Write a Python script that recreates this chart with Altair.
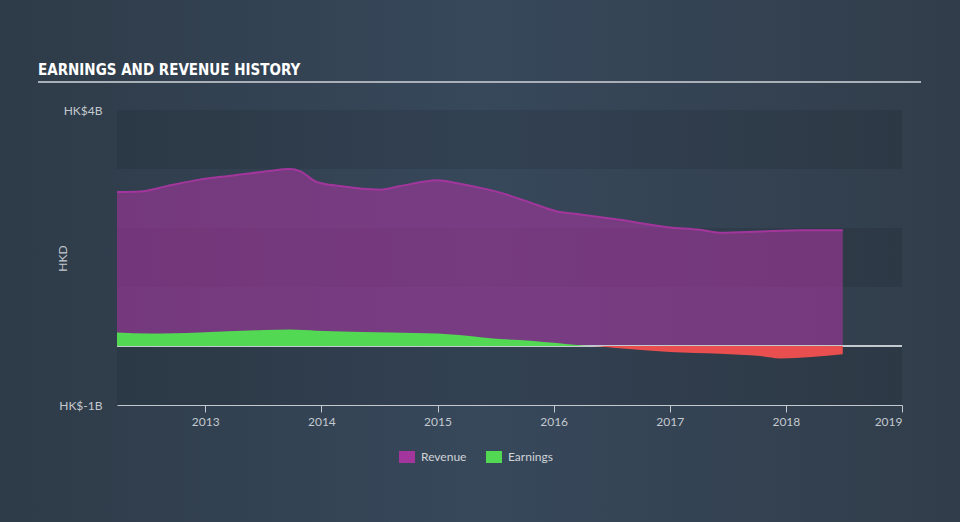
import altair as alt
import pandas as pd

# ---- data ----
rev_year = [2012.24, 2012.44, 2012.67, 2012.95, 2013.24, 2013.53, 2013.73, 2013.82,
            2013.96, 2014.16, 2014.51, 2014.68, 2015.00, 2015.19, 2015.37, 2015.54,
            2015.80, 2016.03, 2016.23, 2016.57, 2017.00, 2017.26, 2017.43, 2017.78,
            2018.12, 2018.49]
rev_value = [2.61, 2.62, 2.71, 2.82, 2.89, 2.96, 3.00, 2.96,
             2.78, 2.71, 2.65, 2.71, 2.81, 2.75, 2.68, 2.60,
             2.43, 2.28, 2.23, 2.14, 2.01, 1.97, 1.92, 1.94,
             1.96, 1.96]

earn_year = [2012.24, 2012.52, 2012.95, 2013.50, 2013.73, 2013.96, 2014.10, 2014.60,
             2015.00, 2015.37, 2015.54, 2015.80, 2016.03, 2016.33, 2016.57, 2017.00,
             2017.43, 2017.78, 2017.95, 2018.49]
earn_value = [0.23, 0.21, 0.23, 0.27, 0.28, 0.26, 0.25, 0.23,
              0.21, 0.15, 0.12, 0.09, 0.05, 0.00, -0.04, -0.10,
              -0.13, -0.17, -0.21, -0.14]

x_ticks = [2013, 2014, 2015, 2016, 2017, 2018, 2019]
y_ticks = [4, -1]
band_lo = [3, 1, -1]
band_hi = [4, 2, 0]

series = ["Revenue", "Earnings"]
series_colors = ["#a3369c", "#52d852"]
neg_color = "#e84f4e"

W, H = 785, 295
PAD_L, PAD_T = 117, 110

rev_df = pd.DataFrame({"year": rev_year, "value": rev_value, "series": "Revenue"})
earn_df = pd.DataFrame({"year": earn_year, "value": earn_value, "series": "Earnings"})
band_df = pd.DataFrame({"lo": band_lo, "hi": band_hi})
one = pd.DataFrame({"k": [0]})

xscale = alt.Scale(domain=[2012.24, 2019.0], nice=False, zero=False)
yscale = alt.Scale(domain=[-1, 4], nice=False, zero=False)
cscale = alt.Scale(domain=series, range=series_colors)

x_axis = alt.Axis(values=x_ticks, format="d", grid=False, domainColor="#c3c9cf",
                  tickColor="#c3c9cf", tickSize=7, labelColor="#c3c9cf",
                  labelFontSize=12, labelPadding=4, labelFont="Lato", zindex=1)
y_axis = alt.Axis(values=y_ticks, labelExpr="'HK$' + datum.value + 'B'", grid=False,
                  domain=False, ticks=False, labelColor="#c3c9cf", labelFontSize=12,
                  labelPadding=15, labelFont="Lato", titleColor="#c3c9cf",
                  titleFontSize=12, titleFontWeight="normal", titleFont="Lato",
                  titleX=-55, titleY=148, titleAngle=270,
                  titleAlign="center", titleBaseline="middle", zindex=1)

bg = alt.Chart(one).mark_rect(
    color=alt.Gradient(
        gradient="linear", x1=0, x2=1, y1=0, y2=0,
        stops=[alt.GradientStop(color="#2e3b48", offset=0),
               alt.GradientStop(color="#37485b", offset=0.5),
               alt.GradientStop(color="#313d4a", offset=1)])
).encode(x=alt.value(-PAD_L), x2=alt.value(960 - PAD_L),
         y=alt.value(-PAD_T), y2=alt.value(522 - PAD_T))

bands = alt.Chart(band_df).mark_rect(color="#000000", opacity=0.09).encode(
    x=alt.value(0), x2=alt.value(W),
    y=alt.Y("hi:Q", scale=yscale, title="HKD", axis=y_axis),
    y2="lo:Q",
)

legend = alt.Legend(
    title=None, orient="none", legendX=282, legendY=339, direction="horizontal",
    symbolType="M-1,-0.75H1V0.75H-1Z", symbolSize=256, symbolStrokeWidth=0,
    symbolOpacity=1, labelColor="#d0d4d8", labelFontSize=12, labelFont="Lato",
    columnPadding=19, labelOffset=6,
)

revenue = alt.Chart(rev_df).mark_area(
    interpolate="monotone", fillOpacity=0.6,
    line={"strokeWidth": 2, "interpolate": "monotone"},
).encode(
    x=alt.X("year:Q", scale=xscale, title=None, axis=x_axis),
    y=alt.Y("value:Q", scale=yscale, title="HKD", axis=y_axis),
    color=alt.Color("series:N", scale=cscale, legend=legend),
)

zero = alt.Chart(one).mark_rule(color="#c3c9cf", strokeWidth=2).encode(
    y=alt.Y("k:Q", scale=yscale, title="HKD", axis=y_axis),
)

earn_pos = alt.Chart(earn_df).transform_calculate(
    pos="max(datum.value, 0)"
).mark_area(interpolate="monotone", fillOpacity=1).encode(
    x=alt.X("year:Q", scale=xscale, title=None, axis=x_axis),
    y=alt.Y("pos:Q", scale=yscale, title="HKD", axis=y_axis),
    color=alt.Color("series:N", scale=cscale, legend=legend),
)

earn_neg = alt.Chart(earn_df).transform_calculate(
    neg="min(datum.value, 0)"
).mark_area(interpolate="monotone", color=neg_color, fillOpacity=1).encode(
    x=alt.X("year:Q", scale=xscale, title=None, axis=x_axis),
    y=alt.Y("neg:Q", scale=yscale, title="HKD", axis=y_axis),
)

title_txt = alt.Chart(one).mark_text(
    text="EARNINGS AND REVENUE HISTORY", align="left", baseline="alphabetic",
    font="Liberation Sans Narrow, DejaVu Sans Condensed, sans-serif",
    fontWeight="bold", fontSize=15, color="#ffffff",
).encode(x=alt.value(38 - PAD_L), y=alt.value(75 - PAD_T))

title_rule = alt.Chart(one).mark_rule(color="#a9b0b8", strokeWidth=2).encode(
    x=alt.value(38 - PAD_L), x2=alt.value(921 - PAD_L), y=alt.value(82 - PAD_T)
)

chart = alt.layer(
    bg, bands, revenue, zero, earn_pos, earn_neg, title_txt, title_rule
).properties(
    width=W, height=H,
    autosize=alt.AutoSizeParams(type="none"),
    padding={"left": PAD_L, "top": PAD_T, "right": 960 - PAD_L - W, "bottom": 522 - PAD_T - H},
    background="#323f4d",
).configure_view(stroke=None)

chart.save("out.html", embed_options={"renderer": "svg", "actions": False})
